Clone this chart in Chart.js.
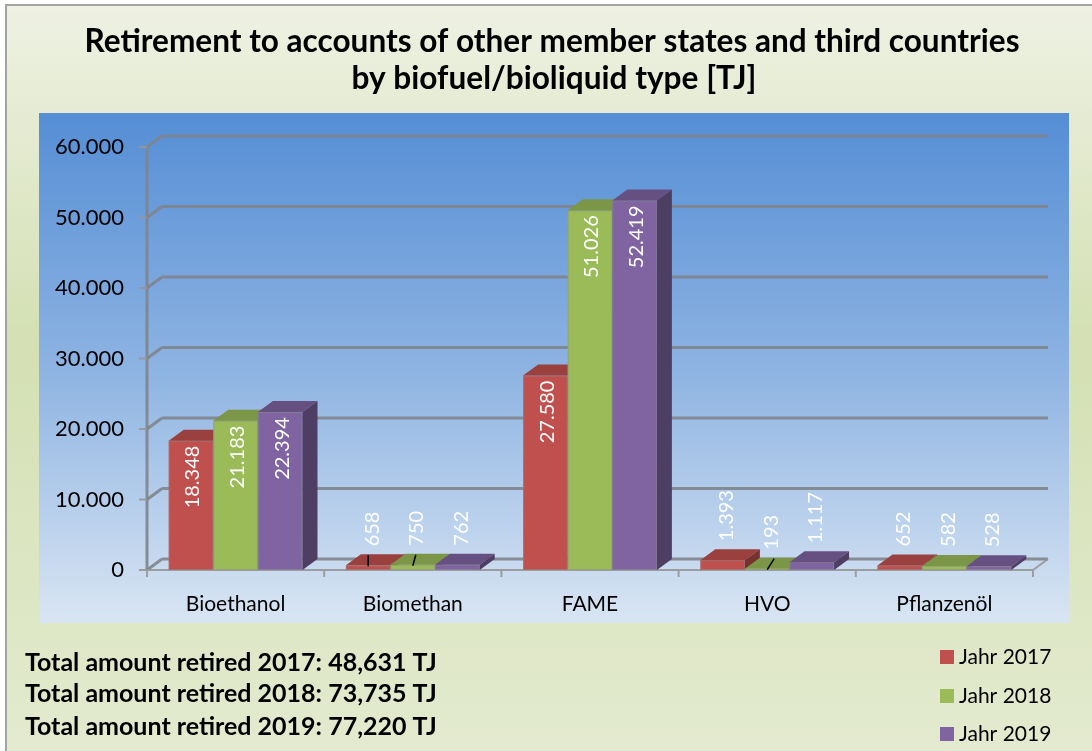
<!DOCTYPE html>
<html>
<head>
<meta charset="utf-8">
<script src="https://cdn.jsdelivr.net/npm/chart.js@4.4.1/dist/chart.umd.min.js"></script>
<style>
  html, body { margin: 0; padding: 0; background: #ffffff; overflow: hidden; }
  canvas { display: block; }
</style>
</head>
<body>
<canvas id="chart" width="1092" height="751"></canvas>
<script>
// ---- data ----
const categories = ['Bioethanol', 'Biomethan', 'FAME', 'HVO', 'Pflanzenöl'];
const seriesNames = ['Jahr 2017', 'Jahr 2018', 'Jahr 2019'];
const values2017 = [18348, 658, 27580, 1393, 652];
const values2018 = [21183, 750, 51026, 193, 582];
const values2019 = [22394, 762, 52419, 1117, 528];
const yTickLabels = ['0', '10.000', '20.000', '30.000', '40.000', '50.000', '60.000'];
const titleLines = [
  'Retirement to accounts of other member states and third countries',
  'by biofuel/bioliquid type [TJ]'
];
const totalLines = [
  'Total amount retired 2017: 48,631 TJ',
  'Total amount retired 2018: 73,735 TJ',
  'Total amount retired 2019: 77,220 TJ'
];
const seriesColors = ['#c0504d', '#9bbb59', '#8064a2'];

// ---- helpers ----
const FONT = 'Lato, "Open Sans", sans-serif';
const DX = 15, DY = 11;               // oblique depth of the 3D box

function fmt(v) {
  return String(v).replace(/\B(?=(\d{3})+(?!\d))/g, '.');
}
function shade(hex, f) {
  const n = parseInt(hex.slice(1), 16);
  const r = Math.round(((n >> 16) & 255) * f);
  const g = Math.round(((n >> 8) & 255) * f);
  const b = Math.round((n & 255) * f);
  return `rgb(${r},${g},${b})`;
}

// leader lines for a few moved labels: key "dataset-category" -> horizontal slant
const leaders = { '0-1': 0, '1-1': 3, '1-3': 7 };

const scenePlugin = {
  id: 'scene',
  beforeDraw(chart) {
    const ctx = chart.ctx;
    ctx.save();
    // outer frame background
    const bg = ctx.createLinearGradient(0, 5, 0, 751);
    bg.addColorStop(0, '#eef1e3');
    bg.addColorStop(0.45, '#d4e0b3');
    bg.addColorStop(1, '#e3eacf');
    ctx.fillStyle = bg;
    ctx.fillRect(6, 5, 1092, 751);
    ctx.strokeStyle = '#a3a3a3';
    ctx.lineWidth = 2;
    ctx.strokeRect(6, 5, 1200, 900);

    // plot box
    const pb = ctx.createLinearGradient(0, 113, 0, 623);
    pb.addColorStop(0, '#558ed5');
    pb.addColorStop(0.5, '#8db3e2');
    pb.addColorStop(1, '#d9e5f3');
    ctx.fillStyle = pb;
    ctx.fillRect(39, 113, 1030, 510);

    // title
    ctx.fillStyle = '#000';
    ctx.textAlign = 'center';
    ctx.textBaseline = 'alphabetic';
    ctx.font = `bold 32px ${FONT}`;
    ctx.fillText(titleLines[0], 552, 52, 935);
    ctx.fillText(titleLines[1], 554, 89, 405);

    // totals
    ctx.textAlign = 'left';
    ctx.font = `bold 25px ${FONT}`;
    const tys = [671, 702, 735];
    totalLines.forEach((t, i) => ctx.fillText(t, 25, tys[i], 413));

    // legend
    ctx.font = `21px ${FONT}`;
    const lys = [650, 689, 727];
    seriesNames.forEach((s, i) => {
      ctx.fillStyle = seriesColors[i];
      ctx.fillRect(940, lys[i], 14, 14);
      ctx.fillStyle = '#000';
      ctx.fillText(s, 959, lys[i] + 14);
    });
    ctx.restore();
  },
  beforeDatasetsDraw(chart) {
    const ctx = chart.ctx;
    const ys = chart.scales.y;
    const L = chart.chartArea.left, R = chart.chartArea.right;
    const y0 = ys.getPixelForValue(0);
    const yTop = ys.getPixelForValue(ys.max);
    ctx.save();
    ctx.lineCap = 'butt';
    // wall gridlines
    ctx.strokeStyle = 'rgba(128,132,140,0.9)';
    ctx.lineWidth = 3;
    ctx.beginPath();
    ys.ticks.forEach(t => {
      const py = ys.getPixelForValue(t.value);
      ctx.moveTo(L + DX, py - DY);
      ctx.lineTo(R + DX, py - DY);
      ctx.moveTo(L, py);
      ctx.lineTo(L + DX, py - DY);
    });
    ctx.stroke();
    // value axis and tick marks
    ctx.beginPath();
    ctx.moveTo(L, yTop);
    ctx.lineTo(L, y0);
    ctx.stroke();
    ctx.lineWidth = 2;
    ctx.strokeStyle = 'rgba(150,150,150,0.9)';
    ctx.beginPath();
    ys.ticks.forEach(t => {
      const py = ys.getPixelForValue(t.value);
      ctx.moveTo(L - 8, py);
      ctx.lineTo(L, py);
    });
    // floor front and right edges
    ctx.moveTo(L, y0);
    ctx.lineTo(R, y0);
    ctx.lineTo(R + DX, y0 - DY);
    // category tick marks
    const step = (R - L) / categories.length;
    for (let i = 0; i <= categories.length; i++) {
      const px = L + i * step;
      ctx.moveTo(px, y0);
      ctx.lineTo(px, y0 + 7);
    }
    ctx.stroke();
    ctx.restore();
  },
  afterDatasetsDraw(chart) {
    const ctx = chart.ctx;
    const nSets = chart.data.datasets.length;
    const boxes = [];
    ctx.save();
    // bars, left to right so each front face covers the neighbour's side
    for (let j = 0; j < categories.length; j++) {
      for (let i = 0; i < nSets; i++) {
        const el = chart.getDatasetMeta(i).data[j];
        const p = el.getProps(['x', 'y', 'base', 'width'], true);
        const l = p.x - p.width / 2, r = p.x + p.width / 2;
        const top = p.y, bot = p.base;
        const c = seriesColors[i];
        // front
        ctx.fillStyle = c;
        ctx.fillRect(l, top, r - l, bot - top);
        ctx.strokeStyle = 'rgba(140,140,140,0.55)';
        ctx.lineWidth = 1;
        ctx.strokeRect(l + 0.5, top + 0.5, r - l - 1, bot - top - 1);
        // top
        ctx.fillStyle = shade(c, 0.8);
        ctx.beginPath();
        ctx.moveTo(l, top);
        ctx.lineTo(r, top);
        ctx.lineTo(r + DX, top - DY);
        ctx.lineTo(l + DX, top - DY);
        ctx.closePath();
        ctx.fill();
        // side
        ctx.fillStyle = shade(c, 0.62);
        ctx.beginPath();
        ctx.moveTo(r, top);
        ctx.lineTo(r + DX, top - DY);
        ctx.lineTo(r + DX, bot - DY);
        ctx.lineTo(r, bot);
        ctx.closePath();
        ctx.fill();
        boxes.push({ i, j, x: p.x, top, bot, v: chart.data.datasets[i].data[j] });
      }
    }
    // value labels
    ctx.font = `20px ${FONT}`;
    ctx.fillStyle = '#ffffff';
    ctx.textBaseline = 'middle';
    boxes.forEach(b => {
      const inside = (b.bot - b.top) > 80;
      ctx.save();
      if (inside) {
        ctx.translate(b.x + 2, b.top + 5);
        ctx.rotate(-Math.PI / 2);
        ctx.textAlign = 'right';
      } else {
        ctx.translate(b.x + 4, b.top - 19);
        ctx.rotate(-Math.PI / 2);
        ctx.textAlign = 'left';
      }
      ctx.fillText(fmt(b.v), 0, 0);
      ctx.restore();
      const key = b.i + '-' + b.j;
      if (key in leaders) {
        const s = leaders[key];
        ctx.strokeStyle = '#000';
        ctx.lineWidth = 1.5;
        ctx.beginPath();
        ctx.moveTo(b.x + s, b.top - 10);
        ctx.lineTo(b.x, b.top + 1);
        ctx.stroke();
      }
    });
    ctx.restore();
  }
};

new Chart(document.getElementById('chart'), {
  type: 'bar',
  data: {
    labels: categories,
    datasets: [
      { label: seriesNames[0], data: values2017 },
      { label: seriesNames[1], data: values2018 },
      { label: seriesNames[2], data: values2019 }
    ].map(d => Object.assign(d, {
      backgroundColor: 'rgba(0,0,0,0)',
      borderWidth: 0,
      categoryPercentage: 0.755,
      barPercentage: 1.0
    }))
  },
  options: {
    responsive: false,
    devicePixelRatio: 1,
    animation: false,
    layout: { padding: { left: 39, top: 147, right: 59, bottom: 121 } },
    plugins: {
      legend: { display: false },
      title: { display: false },
      tooltip: { enabled: false }
    },
    scales: {
      x: {
        grid: { display: false, drawTicks: false },
        border: { display: false },
        ticks: { color: '#000', padding: 22, font: { family: FONT, size: 21 } },
        afterFit: s => { s.height = 60; }
      },
      y: {
        min: 0,
        max: 60000,
        grid: { display: false, drawTicks: false },
        border: { display: false },
        ticks: {
          stepSize: 10000,
          padding: 23,
          color: '#000',
          font: { family: FONT, size: 22 },
          callback: (v, i) => yTickLabels[i]
        },
        afterFit: s => { s.width = 108; }
      }
    }
  },
  plugins: [scenePlugin]
});
</script>
</body>
</html>
